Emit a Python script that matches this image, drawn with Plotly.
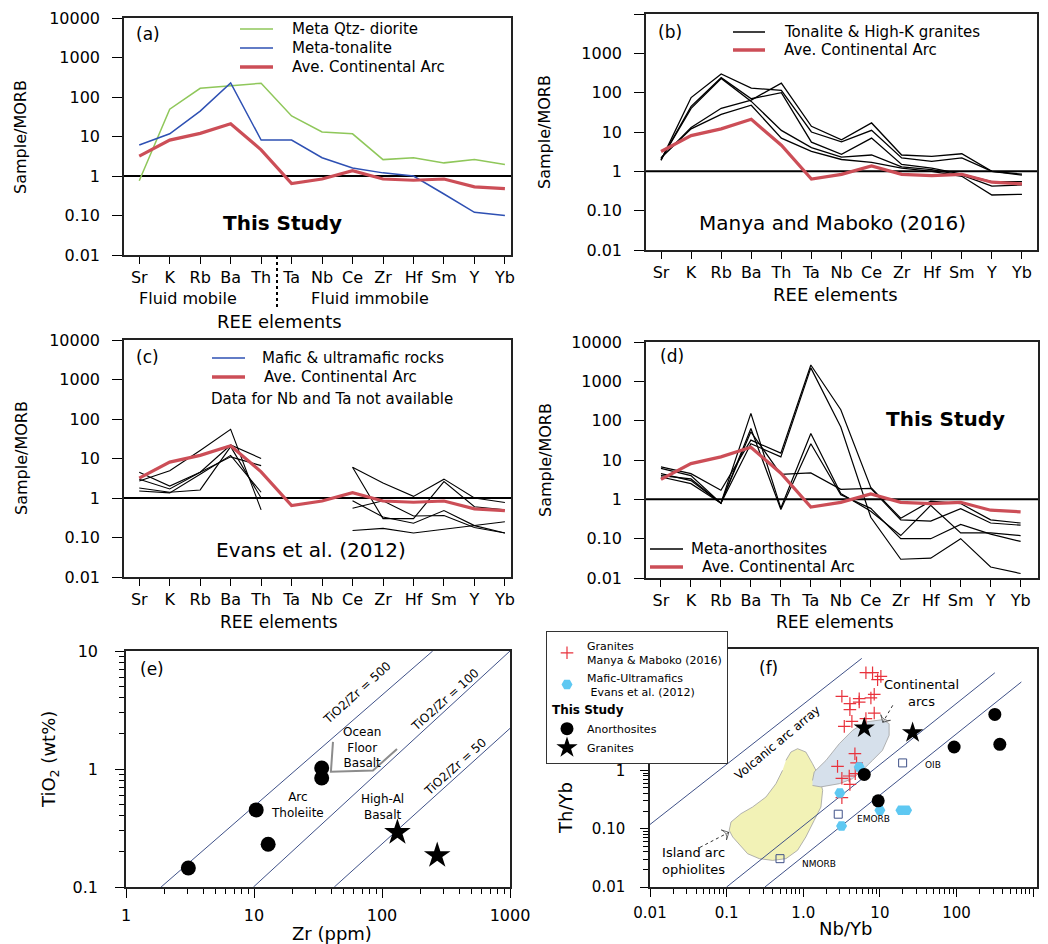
import plotly.graph_objects as go

FONT = "DejaVu Sans"
W, H = 1048, 944          # target picture size
OX, OY = 8, 8             # page offset of the plot div (browser body margin)
FW, FH = W - OX, H - OY   # figure size so that it ends exactly at the window edge

# ---------------- data ----------------
elements = ["Sr", "K", "Rb", "Ba", "Th", "Ta", "Nb", "Ce", "Zr", "Hf", "Sm", "Y", "Yb"]
ave_continental_arc = [3.2, 8.1, 12, 21, 4.6, 0.64, 0.84, 1.37, 0.84, 0.78, 0.84, 0.53, 0.48]
morb_reference = 1.0

# (a) this study
a_meta_qtz_diorite = [0.76, 49, 166, 195, 223, 33, 13, 11.7, 2.6, 2.9, 2.15, 2.6, 1.95]
a_meta_tonalite = [6.1, 11.7, 44, 228, 8.1, 8.1, 2.9, 1.6, 1.2, 1.0, 0.35, 0.12, 0.10]

# (b) Manya and Maboko (2016)
b_granite_1 = [1.9, 75, 300, 130, 115, 10, 5.6, 11, 2.2, 1.8, 2.2, 1.0, 0.8]
b_granite_2 = [2.0, 45, 240, 70, 100, 5.5, 2.7, 7, 1.5, 1.2, 0.85, 0.55, 0.55]
b_granite_3 = [2.0, 40, 230, 60, 11, 4.0, 2.3, 2.6, 1.3, 1.1, 0.8, 0.42, 0.45]
b_granite_4 = [2.2, 13, 40, 65, 175, 14, 6.3, 17, 2.6, 2.4, 2.8, 1.0, 0.85]
b_granite_5 = [2.2, 12, 28, 48, 7, 3.2, 2.0, 1.7, 1.2, 1.0, 0.75, 0.25, 0.26]

# (c) Evans et al. (2012) - no Ta, Nb
c_mafic_1 = [2.7, 4.9, 16, 55, 0.5, None, None, 6.0, 2.4, 1.1, 3.0, 1.0, 0.77]
c_mafic_2 = [4.5, 2.0, 4.5, 22, 10, None, None, 6.0, 0.3, 0.3, 2.6, 0.6, 0.5]
c_mafic_3 = [3.0, 1.7, 4.5, 11, 6.6, None, None, 0.85, 0.33, 0.23, 0.48, 0.2, 0.13]
c_mafic_4 = [1.8, 1.4, 1.6, 20, 1.0, None, None, 0.55, 0.85, 0.35, 0.36, 0.18, 0.13]
c_mafic_5 = [1.5, 1.35, 4.0, 12, 1.4, None, None, 0.15, 0.17, 0.13, 0.16, 0.2, 0.25]

# (d) this study - meta-anorthosites
d_anorth_1 = [6.7, 4.5, 1.7, 32, 15, 2600, 190, 2.0, 0.33, 0.9, 0.78, 0.3, 0.25]
d_anorth_2 = [6.1, 4.0, 0.8, 26, 12, 2200, 69, 0.35, 0.03, 0.032, 0.1, 0.019, 0.013]
d_anorth_3 = [4.5, 3.0, 0.8, 153, 0.6, 47, 1.4, 0.5, 0.12, 0.7, 0.14, 0.14, 0.12]
d_anorth_4 = [3.7, 2.5, 0.8, 63, 0.55, 26, 1.3, 0.59, 0.1, 0.1, 0.23, 0.13, 0.085]
d_anorth_5 = [4.0, 3.3, 0.8, 52, 4.3, 4.7, 1.8, 1.9, 0.3, 0.28, 0.58, 0.25, 0.22]

# (e) Zr vs TiO2
e_anorth_zr = [3.07, 10.4, 12.9, 33.8, 33.8]
e_anorth_tio2 = [0.145, 0.45, 0.23, 1.02, 0.84]
e_granite_zr = [132, 270]
e_granite_tio2 = [0.29, 0.185]
e_ratio_500_zr, e_ratio_500_tio2 = [1.88, 249], [0.1, 10]
e_ratio_100_zr, e_ratio_100_tio2 = [9.9, 1000], [0.1, 10]
e_ratio_50_zr, e_ratio_50_tio2 = [42.4, 1000], [0.1, 2.21]
e_ofb_bracket_zr = [41.4, 39.9, 85, 131]
e_ofb_bracket_tio2 = [1.70, 0.95, 0.97, 1.48]

# (f) Nb/Yb vs Th/Yb
f_mm_granite_nbyb = [6.57, 8.02, 10.3, 9.33, 3.19, 4.06, 4.06, 5.37, 5.37, 7.63, 8.43, 8.43, 6.57,
                     4.31, 3.43, 4.72, 2.8, 4.96, 4.77, 3.98, 3.19, 4.06, 3.19]
f_mm_granite_thyb = [47.2, 47.2, 40.8, 35.8, 18.6, 13.9, 11.0, 16.9, 14.8, 17.4, 20.1, 9.6, 7.69,
                     6.92, 5.68, 1.93, 1.17, 1.34, 0.877, 0.80, 0.73, 0.575, 0.34]
f_evans_nbyb = [5.37, 3.0, 10.0, 18.8, 22.3, 3.16]
f_evans_thyb = [1.14, 0.41, 0.206, 0.206, 0.206, 0.111]
f_anorth_nbyb = [6.25, 9.5, 93, 316, 367]
f_anorth_thyb = [0.85, 0.3, 2.51, 9.1, 2.79]
f_granite_nbyb = [6.25, 26.7]
f_granite_thyb = [5.32, 4.42]
f_ref_names = ["NMORB", "EMORB", "OIB"]
f_ref_nbyb = [0.497, 2.86, 19.8]
f_ref_thyb = [0.0306, 0.177, 1.34]
f_array_upper_nbyb, f_array_upper_thyb = [0.01, 5.8], [0.118, 83]
f_array_mid_nbyb, f_array_mid_thyb = [0.1, 316], [0.01, 47]
f_array_low_nbyb, f_array_low_thyb = [0.316, 701], [0.01, 32.7]
f_cont_arc_nbyb = [1.32, 1.39, 1.98, 2.95, 4.4, 6.56, 10.8, 13.2, 13.2, 10.8, 8.0, 5.9, 4.4, 2.95, 1.7, 1.32]
f_cont_arc_thyb = [0.67, 0.94, 1.48, 2.86, 4.85, 6.75, 7.4, 6.3, 3.98, 2.2, 1.48, 1.0, 0.72, 0.59, 0.52, 0.55]
f_island_arc_nbyb = [0.594, 0.69, 0.843, 1.08, 1.32, 1.62, 1.79, 1.70, 1.39, 1.08, 0.843, 0.594, 0.398,
                     0.267, 0.188, 0.146, 0.12, 0.108, 0.114, 0.154, 0.218, 0.326, 0.44, 0.537]
f_island_arc_thyb = [1.48, 2.06, 2.35, 2.06, 1.3, 0.769, 0.454, 0.235, 0.139, 0.072, 0.0426, 0.0306,
                     0.0286, 0.0306, 0.0372, 0.0553, 0.072, 0.0935, 0.13, 0.181, 0.235, 0.349, 0.59, 1.0]
f_arrow_island_nbyb, f_arrow_island_thyb = [0.0449, 0.107], [0.0478, 0.0865]
f_arrow_cont_nbyb, f_arrow_cont_thyb = [14.7, 10.9], [13.0, 6.65]

# ---------------- styles ----------------
RED = "#cc4e57"
GREEN = "#8fc75a"
BLUE = "#2e50b3"
XRED = "#e8323c"
CYAN = "#5ec8f2"
SLATE = "#3f5188"
idx = list(range(len(elements)))


def PX(p):
    return (p - OX) / FW


def PY(p):
    return 1 - (p - OY) / FH


fig = go.Figure()


def ree_line(y, ax, color="black", width=1.2, name=None):
    return go.Scatter(x=idx, y=y, mode="lines", line=dict(color=color, width=width),
                      name=name, showlegend=False,
                      xaxis="x" + ax, yaxis="y" + ax, hoverinfo="skip", connectgaps=False)


def ref_line(ax, rng):
    return go.Scatter(x=rng, y=[morb_reference, morb_reference], mode="lines",
                      line=dict(color="black", width=2), showlegend=False,
                      xaxis="x" + ax, yaxis="y" + ax, hoverinfo="skip")

ranges = {"": [-0.5, 12.2], "2": [-0.5, 12.5], "3": [-0.5, 12.2], "4": [-0.5, 12.58]}

# (a)
fig.add_trace(ref_line("", ranges[""]))
fig.add_trace(ree_line(a_meta_qtz_diorite, "", GREEN, 1.5, "Meta Qtz- diorite"))
fig.add_trace(ree_line(a_meta_tonalite, "", BLUE, 1.5, "Meta-tonalite"))
fig.add_trace(ree_line(ave_continental_arc, "", RED, 3.2, "Ave. Continental Arc"))

# (b)
fig.add_trace(ref_line("2", ranges["2"]))
for s in [b_granite_1, b_granite_2, b_granite_3, b_granite_4, b_granite_5]:
    fig.add_trace(ree_line(s, "2", "black", 1.3, "Tonalite & High-K granites"))
fig.add_trace(ree_line(ave_continental_arc, "2", RED, 3.2, "Ave. Continental Arc"))

# (c)
fig.add_trace(ref_line("3", ranges["3"]))
for s in [c_mafic_1, c_mafic_2, c_mafic_3, c_mafic_4, c_mafic_5]:
    fig.add_trace(ree_line(s, "3", "black", 1.1, "Mafic & ultramafic rocks"))
fig.add_trace(ree_line(ave_continental_arc, "3", RED, 3.2, "Ave. Continental Arc"))

# (d)
fig.add_trace(ref_line("4", ranges["4"]))
for s in [d_anorth_1, d_anorth_2, d_anorth_3, d_anorth_4, d_anorth_5]:
    fig.add_trace(ree_line(s, "4", "black", 1.2, "Meta-anorthosites"))
fig.add_trace(ree_line(ave_continental_arc, "4", RED, 3.2, "Ave. Continental Arc"))

# (e)
for zx, ty in [(e_ratio_500_zr, e_ratio_500_tio2), (e_ratio_100_zr, e_ratio_100_tio2),
               (e_ratio_50_zr, e_ratio_50_tio2)]:
    fig.add_trace(go.Scatter(x=zx, y=ty, mode="lines", line=dict(color=SLATE, width=1),
                             showlegend=False, xaxis="x5", yaxis="y5", hoverinfo="skip"))
fig.add_trace(go.Scatter(x=e_ofb_bracket_zr, y=e_ofb_bracket_tio2, mode="lines",
                         line=dict(color="#8c8c8c", width=2), showlegend=False,
                         xaxis="x5", yaxis="y5", hoverinfo="skip"))
fig.add_trace(go.Scatter(x=e_anorth_zr, y=e_anorth_tio2, mode="markers",
                         marker=dict(symbol="circle", size=15, color="black"),
                         showlegend=False, xaxis="x5", yaxis="y5"))
fig.add_trace(go.Scatter(x=e_granite_zr, y=e_granite_tio2, mode="markers",
                         marker=dict(symbol="star", size=20, color="black"),
                         showlegend=False, xaxis="x5", yaxis="y5"))

# (f)
fig.add_trace(go.Scatter(x=f_island_arc_nbyb, y=f_island_arc_thyb, mode="lines", fill="toself",
                         fillcolor="#f2f2b6", line=dict(color="#a0a0a0", width=0.8),
                         showlegend=False, xaxis="x6", yaxis="y6", hoverinfo="skip"))
fig.add_trace(go.Scatter(x=f_cont_arc_nbyb, y=f_cont_arc_thyb, mode="lines", fill="toself",
                         fillcolor="#d6e0eb", line=dict(color="#a0a0a0", width=0.8),
                         showlegend=False, xaxis="x6", yaxis="y6", hoverinfo="skip"))
for nx, ty in [(f_array_upper_nbyb, f_array_upper_thyb), (f_array_mid_nbyb, f_array_mid_thyb),
               (f_array_low_nbyb, f_array_low_thyb)]:
    fig.add_trace(go.Scatter(x=nx, y=ty, mode="lines", line=dict(color=SLATE, width=1),
                             showlegend=False, xaxis="x6", yaxis="y6", hoverinfo="skip"))
for nx, ty in [(f_arrow_island_nbyb, f_arrow_island_thyb), (f_arrow_cont_nbyb, f_arrow_cont_thyb)]:
    fig.add_trace(go.Scatter(x=nx, y=ty, mode="lines+markers",
                             line=dict(color="#333333", width=1, dash="dot"),
                             marker=dict(symbol="arrow-wide-open", size=[1, 8], angleref="previous",
                                         color="#333333", line=dict(width=1, color="#333333")),
                             showlegend=False, xaxis="x6", yaxis="y6", hoverinfo="skip"))
fig.add_trace(go.Scatter(x=f_ref_nbyb, y=f_ref_thyb, mode="markers",
                         marker=dict(symbol="square-open", size=8, color=SLATE, line=dict(width=1)),
                         showlegend=False, xaxis="x6", yaxis="y6"))
fig.add_trace(go.Scatter(x=f_mm_granite_nbyb, y=f_mm_granite_thyb, mode="markers",
                         marker=dict(symbol="cross-thin", size=9, color=XRED,
                                     line=dict(color=XRED, width=1.2)),
                         name="Granites<br>Manya &amp; Maboko (2016)", legend="legend",
                         legendgroup="refs", xaxis="x6", yaxis="y6"))
fig.add_trace(go.Scatter(x=f_evans_nbyb, y=f_evans_thyb, mode="markers",
                         marker=dict(symbol="hexagon2", size=11, color=CYAN),
                         name="Mafic-Ultramafics<br>\u00a0Evans et al. (2012)", legend="legend",
                         legendgroup="refs", xaxis="x6", yaxis="y6"))
fig.add_trace(go.Scatter(x=f_anorth_nbyb, y=f_anorth_thyb, mode="markers",
                         marker=dict(symbol="circle", size=13, color="black"),
                         name="Anorthosites", legend="legend", legendgroup="study",
                         legendgrouptitle=dict(text="<b>This Study</b>",
                                               font=dict(family=FONT, size=12, color="black")),
                         xaxis="x6", yaxis="y6"))
fig.add_trace(go.Scatter(x=f_granite_nbyb, y=f_granite_thyb, mode="markers",
                         marker=dict(symbol="star", size=16, color="black"),
                         name="Granites", legend="legend", legendgroup="study",
                         xaxis="x6", yaxis="y6"))

# ---------------- axes ----------------
tickfont = dict(family=FONT, size=16, color="black")
ree_yvals = [0.01, 0.1, 1, 10, 100, 1000, 10000]
ree_ytext = ["0.01", "0.10", "1", "10", "100", "1000", "10000"]


def dom(p0, p1, vertical=False):
    if vertical:
        return [PY(p1), PY(p0)]
    return [PX(p0), PX(p1)]


base_axis = dict(showline=True, linecolor="#222", linewidth=1.5, mirror=True, showgrid=False,
                 zeroline=False, automargin=False, tickcolor="black", ticks="outside")


def ree_x(domain, rng, anchor):
    return dict(base_axis, domain=domain, range=rng, anchor=anchor, tickmode="array",
                tickvals=idx, ticktext=elements, ticklen=7, tickwidth=1.3, tickfont=tickfont)


def ree_y(domain, anchor):
    return dict(base_axis, domain=domain, type="log", range=[-2, 4], anchor=anchor,
                tickmode="array", tickvals=ree_yvals, ticktext=ree_ytext, ticklen=10,
                tickwidth=1.3, tickfont=tickfont, ticklabelstandoff=9)


def minor_vals(k0, k1):
    return [m * 10 ** k for k in range(k0, k1) for m in range(2, 10)]


layout = dict(
    template="none",
    width=FW, height=FH, autosize=False, margin=dict(l=0, r=0, t=0, b=0, pad=0),
    paper_bgcolor="white", plot_bgcolor="white",
    font=dict(family=FONT, color="black"),
    showlegend=True,
    xaxis=ree_x(dom(124, 511), ranges[""], "y"),
    yaxis=ree_y(dom(18, 255, True), "x"),
    xaxis2=ree_x(dom(646, 1037), ranges["2"], "y2"),
    yaxis2=ree_y(dom(14, 250, True), "x2"),
    xaxis3=ree_x(dom(124, 511), ranges["3"], "y3"),
    yaxis3=ree_y(dom(340, 577, True), "x3"),
    xaxis4=ree_x(dom(646, 1038), ranges["4"], "y4"),
    yaxis4=ree_y(dom(342, 578, True), "x4"),
    xaxis5=dict(base_axis, domain=dom(126, 510), type="log", range=[0, 3], anchor="y5",
                tickmode="array", tickvals=[1, 10, 100, 1000], ticktext=["1", "10", "100", "1000"],
                ticklen=9, tickfont=tickfont, ticklabelstandoff=4,
                minor=dict(tickvals=minor_vals(0, 3), ticks="outside", ticklen=5,
                           tickcolor="black", showgrid=False)),
    yaxis5=dict(base_axis, domain=dom(651, 887, True), type="log", range=[-1, 1], anchor="x5",
                tickmode="array", tickvals=[0.1, 1, 10], ticktext=["0.1", "1", "10"],
                ticklen=9, tickfont=tickfont, ticklabelstandoff=14,
                minor=dict(tickvals=minor_vals(-1, 1), ticks="outside", ticklen=5,
                           tickcolor="black", showgrid=False)),
    xaxis6=dict(base_axis, domain=dom(650, 1037), type="log", range=[-2, 3.05], anchor="y6",
                tickmode="array", tickvals=[0.01, 0.1, 1, 10, 100, 1000],
                ticktext=["0.01", "0.1", "1.0", "10", "100", "1000"],
                ticklen=8, tickfont=dict(family=FONT, size=15, color="black"), ticklabelstandoff=3,
                minor=dict(tickvals=minor_vals(-2, 3), ticks="outside", ticklen=5,
                           tickcolor="black", showgrid=False)),
    yaxis6=dict(base_axis, domain=dom(649, 887, True), type="log", range=[-2, 2.08], anchor="x6",
                tickmode="array", tickvals=[0.01, 0.1, 1], ticktext=["0.01", "0.10", "1"],
                ticklen=8, tickfont=dict(family=FONT, size=15, color="black"), ticklabelstandoff=12,
                minor=dict(tickvals=minor_vals(-2, 2) + [10, 100], ticks="outside", ticklen=5,
                           tickcolor="black", showgrid=False)),
    legend=dict(x=PX(546), y=PY(631), xanchor="left", yanchor="top", bgcolor="white",
                bordercolor="#333", borderwidth=1, font=dict(family=FONT, size=11, color="black"),
                traceorder="grouped", tracegroupgap=0, itemwidth=30),
)


def note(text, x, y, size=16, angle=0, xanchor="center", align="center", color="black"):
    return dict(text=text, x=PX(x), y=PY(y), xref="paper", yref="paper", showarrow=False,
                font=dict(family=FONT, size=size, color=color), textangle=angle,
                xanchor=xanchor, yanchor="middle", align=align)


annotations = [
    # (a)
    note("(a)", 148, 34, 17),
    note("<b>This Study</b>", 282, 223, 20),
    note("Fluid mobile", 188, 298, 16),
    note("Fluid immobile", 370, 298, 16),
    note("REE elements", 279, 322, 18),
    note("Sample/MORB", 21, 137, 16, -90),
    # (b)
    note("(b)", 670, 32, 17),
    note("Manya and Maboko (2016)", 832, 223, 20),
    note("REE elements", 835, 294, 18),
    note("Sample/MORB", 545, 132, 16, -90),
    # (c)
    note("(c)", 147, 357, 17),
    note("Data for Nb and Ta not available", 209, 399, 15, xanchor="left"),
    note("Evans et al. (2012)", 311, 550, 20),
    note("REE elements", 279, 622, 17),
    note("Sample/MORB", 21, 458, 16, -90),
    # (d)
    note("(d)", 672, 356, 17),
    note("<b>This Study</b>", 945, 419, 20),
    note("REE elements", 835, 622, 17),
    note("Sample/MORB", 545, 460, 16, -90),
    # (e)
    note("(e)", 152, 669, 17),
    note("TiO2/Zr = 500", 357, 693, 12, -42),
    note("TiO2/Zr = 100", 445, 700, 12, -42),
    note("TiO2/Zr = 50", 455, 767, 12, -42),
    note("Ocean<br>Floor<br>Basalt", 362, 747, 12),
    note("Arc<br>Tholeiite", 297, 805, 12),
    note("High-Al<br>Basalt", 382, 807, 12),
    note("Zr (ppm)", 332, 933, 18),
    note("TiO<sub>2</sub> (wt%)", 50, 760, 18, -90),
    # (f)
    note("(f)", 768, 668, 17),
    note("Volcanic arc array", 777, 743, 12, -40),
    note("Continental<br>arcs", 921, 693, 13),
    note("Island arc<br>ophiolites", 693, 861, 13),
    note("NMORB", 819, 864, 9),
    note("EMORB", 873, 819, 9),
    note("OIB", 933, 765, 9),
    note("Nb/Yb", 845, 928, 18),
    note("Th/Yb", 565, 808, 18, -90),
]

shapes = [
    dict(type="line", xref="paper", yref="paper", x0=PX(277), x1=PX(277),
         y0=PY(256), y1=PY(310), line=dict(color="black", width=2, dash="dot")),
]

# key boxes for panels (a)-(d): (label, colour, width, y, key x0, key x1, text x)
panel_keys = [
    ("Meta Qtz- diorite", GREEN, 1.5, 29, 240, 273, 290),
    ("Meta-tonalite", BLUE, 1.5, 48, 240, 273, 290),
    ("Ave. Continental Arc", RED, 3.5, 67, 240, 273, 290),
    ("Tonalite &amp; High-K granites", "black", 1.5, 32, 733, 765, 782),
    ("Ave. Continental Arc", RED, 3.5, 50, 733, 765, 782),
    ("Mafic &amp; ultramafic rocks", BLUE, 1.5, 358, 212, 245, 260),
    ("Ave. Continental Arc", RED, 3.5, 377, 212, 245, 262),
    ("Meta-anorthosites", "black", 1.5, 549, 650, 683, 689),
    ("Ave. Continental Arc", RED, 3.5, 567, 650, 683, 700),
]
for label, col, wd, yk, k0, k1, tx in panel_keys:
    shapes.append(dict(type="line", xref="paper", yref="paper", x0=PX(k0), x1=PX(k1),
                       y0=PY(yk), y1=PY(yk), line=dict(color=col, width=wd)))
    annotations.append(note(label, tx, yk, 15, xanchor="left"))

layout["annotations"] = annotations
layout["shapes"] = shapes

fig.update_layout(**layout)
fig.write_html("out.html")
